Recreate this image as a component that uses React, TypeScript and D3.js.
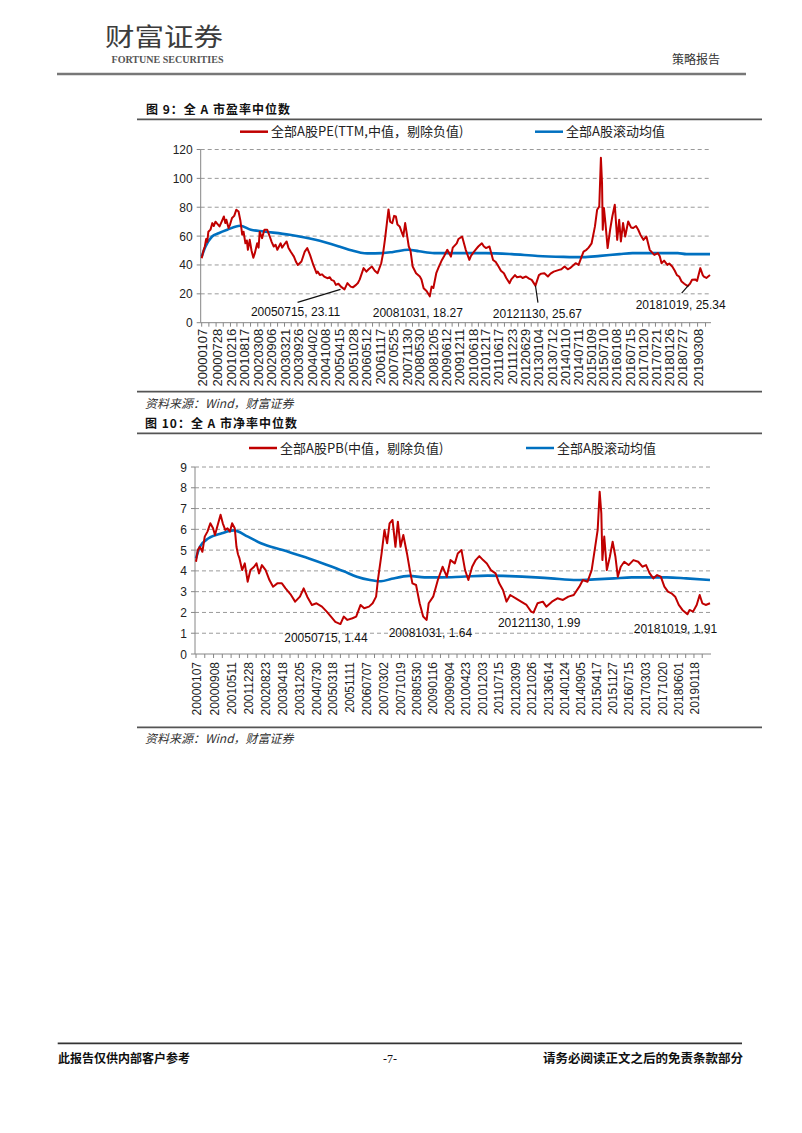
import React from 'react';
import * as d3 from 'd3';

// ---------- DATA ----------
const peLabels = ['20000107','20000728','20010216','20010817','20020308','20020906','20030321','20030926','20040402','20041008','20050415','20051028','20060512','20061117','20070525','20071130','20080530','20081205','20090612','20091211','20100618','20101217','20110617','20111223','20120629','20130104','20130712','20140110','20140711','20150109','20150710','20160108','20160715','20170120','20170721','20180126','20180727','20190308'];
const pbLabels = ['20000107','20000908','20010511','20011228','20020823','20030418','20031205','20040730','20050318','20051111','20060707','20070302','20071019','20080530','20090116','20090904','20100423','20101203','20110715','20120309','20121026','20130614','20140124','20140905','20150417','20151127','20160715','20170303','20171020','20180601','20190118'];

const peYTicks = [0, 20, 40, 60, 80, 100, 120];
const pbYTicks = [0, 1, 2, 3, 4, 5, 6, 7, 8, 9];

const peDates = ['20000107','20000201','20000220','20000310','20000325','20000410','20000510','20000605','20000625','20000720','20000815','20000915','20001015','20001115','20001205','20001220','20010120','20010210','20010310','20010410','20010510','20010610','20010705','20010801','20010820','20010915','20011005','20011020','20011115','20011210','20020105','20020125','20020228','20020320','20020405','20020508','20020610','20020720','20020825','20020920','20021020','20021115','20021210','20030125','20030215','20030315','20030420','20030515','20030615','20030801','20030901','20030925','20031115','20040101','20040205','20040315','20040501','20040615','20040701','20040801','20040901','20041001','20041115','20041220','20050110','20050215','20050315','20050420','20050525','20050715','20050825','20050920','20051010','20051110','20051225','20060120','20060215','20060410','20060520','20060620','20060805','20060915','20061025','20061215','20070110','20070205','20070305','20070328','20070420','20070520','20070615','20070710','20070801','20070901','20071022','20071118','20071210','20080108','20080201','20080303','20080420','20080612','20080705','20080805','20080915','20081031','20081125','20081220','20090130','20090301','20090420','20090520','20090705','20090825','20090920','20091115','20091210','20100130','20100322','20100512','20100601','20100701','20100815','20100915','20101105','20101201','20110101','20110220','20110412','20110520','20110628','20110801','20110912','20111015','20111201','20111225','20120215','20120315','20120505','20120601','20120720','20120901','20121008','20121130','20130118','20130220','20130405','20130525','20130701','20130815','20131030','20131201','20140115','20140301','20140401','20140620','20140801','20140905','20141010','20141120','20141220','20150201','20150320','20150420','20150520','20150612','20150628','20150708','20150725','20150815','20150915','20151020','20151120','20151225','20160128','20160225','20160320','20160420','20160520','20160701','20160810','20160910','20161020','20161120','20161220','20170201','20170315','20170501','20170705','20170825','20170920','20171015','20171120','20180105','20180201','20180315','20180420','20180520','20180620','20180725','20180901','20181019','20181120','20181220','20190201','20190301','20190415','20190520','20190605','20190710','20190830'];
const peValues = [44.7,50,52.8,58,56,63,64.5,69,67,70,68.5,66.7,70,73.6,69,71.3,65.6,68,72.5,74,78.3,77,71,61,63,55,57,50.5,57.4,50,45,48,55,52,63,58.6,64.4,64.4,59.7,56,52.8,54,50.5,55,52,54,56.3,52,49.3,45.8,42,40,42.4,49.3,51.7,47,40,34.3,35.5,33,33.5,32,30.8,31.5,29.7,29,26.2,27,25,23.11,27.4,26,25,24.5,26.2,27.5,30,37.8,35.4,37,38.9,36,34.3,41.2,48,57.4,69,78.5,70,69,74,73.6,68,66.7,59.7,69,62,52.8,50,38.9,34.3,32,30,23.9,22,18.27,25,24,34.3,38,43.5,46,50.5,45.8,52,55,58,59.7,50.5,43.5,46,48.2,51,52.8,55,53,51.7,52.8,43.5,42,38.9,36,34.3,31,27.4,30,33,31.5,32,31,32,30.5,29.7,25.67,33,34,34.3,32,34,35.4,36.6,37,38.9,37,37.8,41.2,40,44.7,49.3,50.5,52,55,66.7,78.3,80.6,114.2,96.8,64.4,79.4,69,51.7,64.4,73.6,81.7,57.4,71.3,56.3,69,59.7,70.1,66,65.6,67,64.4,61,57.4,59.7,50.5,47,48.2,46,41.2,43,40,41,38.9,36,33,32,28.5,27,25.34,27,29.7,30,29,37.8,33,32,31,33];

const peAvgDates = ['20000107','20000301','20000601','20000901','20010101','20010701','20011201','20020601','20030601','20040601','20050501','20051101','20060301','20060601','20070101','20070601','20080101','20080601','20090101','20100101','20110101','20120101','20130101','20140101','20141001','20150601','20160301','20160901','20180601','20181001','20190830'];
const peAvgValues = [45.8,52.8,59.7,62,64.4,67.2,64.4,63.2,60.9,57.4,52.8,50,48.5,48,48.2,49,50.5,49.5,48.2,48.2,48.2,47.5,46.2,45.6,45.4,46.3,47.5,48.2,48.2,47.5,47.5];

const pbDates = ['20000107','20000201','20000301','20000405','20000508','20000615','20000725','20000901','20000928','20001105','20001215','20010115','20010218','20010322','20010425','20010525','20010701','20010725','20010815','20010905','20011012','20011118','20011228','20020205','20020328','20020501','20020605','20020715','20020905','20021028','20021218','20030215','20030420','20030610','20030825','20031022','20031228','20040218','20040408','20040612','20040815','20041030','20050105','20050305','20050505','20050715','20050830','20051020','20051230','20060220','20060422','20060612','20060818','20061008','20061125','20061220','20070210','20070322','20070428','20070601','20070712','20070822','20070925','20071101','20071210','20080130','20080310','20080415','20080605','20080725','20080912','20081031','20081128','20090130','20090405','20090610','20090808','20090928','20091128','20100108','20100301','20100420','20100605','20100728','20100915','20101105','20101228','20110218','20110415','20110620','20110810','20111001','20111120','20120110','20120328','20120610','20120825','20121028','20121130','20130125','20130410','20130528','20130815','20131030','20140115','20140401','20140615','20140901','20141020','20141225','20150220','20150410','20150515','20150612','20150705','20150720','20150815','20150920','20151101','20151210','20160118','20160220','20160401','20160520','20160720','20160925','20161201','20170128','20170320','20170510','20170701','20170822','20171012','20171201','20180120','20180310','20180501','20180620','20180810','20181019','20181118','20190105','20190225','20190408','20190515','20190701','20190830'];
const pbValues = [4.44,5.0,5.16,4.92,5.65,5.89,6.29,6.05,5.73,6.21,6.7,6.29,5.97,6.05,5.89,6.29,6.05,5.16,4.8,4.6,4.04,4.36,3.48,4.04,4.2,4.36,3.88,4.28,4.04,3.56,3.24,3.4,3.4,3.16,2.84,2.52,2.76,3.16,2.76,2.36,2.44,2.28,2.04,1.8,1.55,1.44,1.8,1.64,1.72,1.8,2.36,2.2,2.28,2.44,2.76,3.56,4.84,5.97,5.33,6.29,6.45,5.16,6.37,5.16,5.73,4.84,4.04,3.4,3.32,2.44,1.8,1.64,2.44,2.76,3.56,4.2,3.72,4.52,4.36,4.84,5.0,4.04,3.56,4.2,4.52,4.71,4.52,4.36,4.04,3.88,3.4,3.08,2.52,2.84,2.68,2.52,2.36,2.04,1.99,2.44,2.52,2.28,2.52,2.68,2.6,2.76,2.84,3.24,3.56,3.48,4.04,5.16,5.97,7.81,6.77,4.52,5.65,4.04,4.68,5.4,4.68,3.72,4.2,4.44,4.28,4.52,4.44,4.2,4.28,3.88,3.64,3.8,3.72,3.24,3.0,2.92,2.76,2.36,2.12,1.91,2.12,2.04,2.36,2.84,2.44,2.36,2.44];

const pbAvgDates = ['20000107','20000301','20000701','20010101','20010615','20020101','20020701','20030501','20040501','20050101','20050901','20060301','20060901','20070201','20070701','20080301','20081001','20090601','20100301','20110301','20120101','20130101','20130801','20140801','20150401','20160101','20160901','20180101','20181001','20190830'];
const pbAvgValues = [4.6,5.16,5.57,5.81,5.95,5.65,5.33,5.0,4.6,4.3,3.98,3.72,3.56,3.5,3.62,3.76,3.69,3.69,3.72,3.77,3.75,3.69,3.64,3.56,3.59,3.64,3.69,3.69,3.64,3.56];

const peNoteDates = ['20050715', '20081031', '20121130', '20181019'];
const peNoteValues = [23.11, 18.27, 25.67, 25.34];
const pbNoteDates = ['20050715', '20081031', '20121130', '20181019'];
const pbNoteValues = [1.44, 1.64, 1.99, 1.91];

// ---------- LAYOUT ----------
const RED = '#C00000';
const BLUE = '#0070C0';
const NUM_FONT = '"Liberation Sans", Arial, sans-serif';
const CJK_FONT = '"Noto Sans CJK SC", sans-serif';

const parse = d3.timeParse('%Y%m%d');

type Note = { date: string; value: number; tx: number; ty: number; leader?: [number, number, number, number] };

type ChartCfg = {
  axisX: number; right: number; yTop: number; yBottom: number; yMax: number;
  yTicks: number[]; labels: string[]; labelSize: number; labelGap: number;
  endDate: string;
  red: { dates: string[]; values: number[] };
  blue: { dates: string[]; values: number[] };
  notes: Note[];
  fmt: (v: number) => string;
  legendY: number; redLegendX: number; blueLegendX: number;
  redName: string; blueName: string;
};

function Chart({ c }: { c: ChartCfg }) {
  const x = d3.scaleTime()
    .domain([parse(c.red.dates[0]) as Date, parse(c.endDate) as Date])
    .range([c.axisX + 1, c.right]);
  const y = d3.scaleLinear().domain([0, c.yMax]).range([c.yBottom, c.yTop]);
  const line = d3.line<[Date, number]>().x(d => x(d[0])).y(d => y(d[1]));
  const redPts: [Date, number][] = c.red.dates.map((d, i) => [parse(d) as Date, c.red.values[i]]);
  const bluePts: [Date, number][] = c.blue.dates.map((d, i) => [parse(d) as Date, c.blue.values[i]]);
  const blueLine = d3.line<[Date, number]>().x(d => x(d[0])).y(d => y(d[1])).curve(d3.curveMonotoneX);
  const labelX = c.labels.map(l => x(parse(l) as Date));
  const ticks: number[] = [];
  labelX.forEach((lx, i) => {
    ticks.push(lx);
    const nx = i < labelX.length - 1 ? labelX[i + 1] : lx + (lx - labelX[i - 1]);
    ticks.push((lx + nx) / 2);
  });
  const gridRight = c.right + 1;
  return (
    <g>
      {/* legend */}
      <line x1={c.redLegendX} x2={c.redLegendX + 28} y1={c.legendY} y2={c.legendY} stroke={RED} strokeWidth={2.5} />
      <text x={c.redLegendX + 31} y={c.legendY + 4.5} fontSize={13} fontFamily={CJK_FONT} fill="#222">{c.redName}</text>
      <line x1={c.blueLegendX} x2={c.blueLegendX + 28} y1={c.legendY} y2={c.legendY} stroke={BLUE} strokeWidth={2.5} />
      <text x={c.blueLegendX + 31} y={c.legendY + 4.5} fontSize={13} fontFamily={CJK_FONT} fill="#222">{c.blueName}</text>

      {/* gridlines */}
      {c.yTicks.filter(t => t > 0).map(t => (
        <line key={'g' + t} x1={c.axisX} x2={gridRight} y1={y(t)} y2={y(t)} stroke="#9a9a9a" strokeWidth={1} strokeDasharray="4,3" />
      ))}
      {c.yTicks.map(t => (
        <g key={'yt' + t}>
          <line x1={c.axisX - 4} x2={c.axisX} y1={y(t)} y2={y(t)} stroke="#868686" />
          <text x={c.axisX - 8} y={y(t) + 4.5} fontSize={12} textAnchor="end" fontFamily={NUM_FONT} fill="#222">{t}</text>
        </g>
      ))}
      {/* axes */}
      <line x1={c.axisX} x2={c.axisX} y1={y(c.yMax)} y2={c.yBottom} stroke="#868686" strokeWidth={1} />
      <line x1={c.axisX} x2={gridRight} y1={c.yBottom} y2={c.yBottom} stroke="#868686" strokeWidth={1} />
      {ticks.filter(t => t <= gridRight).map((t, i) => (
        <line key={'xt' + i} x1={t} x2={t} y1={c.yBottom} y2={c.yBottom + 4} stroke="#868686" />
      ))}
      {c.labels.map((l, i) => (
        <text key={l} transform={`translate(${labelX[i] + 1},${c.yBottom + c.labelGap}) rotate(-90)`}
          textAnchor="end" dy="0.35em" fontSize={c.labelSize} fontFamily={NUM_FONT} fill="#222">{l}</text>
      ))}

      {/* series */}
      <path d={blueLine(bluePts) || ''} fill="none" stroke={BLUE} strokeWidth={2.6} strokeLinejoin="round" />
      <path d={line(redPts) || ''} fill="none" stroke={RED} strokeWidth={2} strokeLinejoin="round" />

      {/* notes */}
      {c.notes.map((n, i) => {
        const ax = x(parse(n.date) as Date);
        const ay = y(n.value);
        return (
          <g key={'n' + i}>
            {n.leader && (
              <line x1={ax + n.leader[0]} y1={ay + n.leader[1]} x2={ax + n.leader[2]} y2={ay + n.leader[3]} stroke="#111" strokeWidth={1.2} />
            )}
            <text x={ax + n.tx} y={ay + n.ty} textAnchor="middle" fontSize={12} fontFamily={NUM_FONT} fill="#111">
              {`${n.date}, ${c.fmt(n.value)}`}
            </text>
          </g>
        );
      })}
    </g>
  );
}

const peCfg: ChartCfg = {
  axisX: 200.7, right: 710, yTop: 149.5, yBottom: 322.7, yMax: 120,
  yTicks: peYTicks, labels: peLabels, labelSize: 13, labelGap: 6,
  endDate: '20190830',
  red: { dates: peDates, values: peValues },
  blue: { dates: peAvgDates, values: peAvgValues },
  notes: [
    { date: peNoteDates[0], value: peNoteValues[0], tx: -49, ty: 27, leader: [-47, 13, -4, 0] },
    { date: peNoteDates[1], value: peNoteValues[1], tx: -12, ty: 21 },
    { date: peNoteDates[2], value: peNoteValues[2], tx: 2, ty: 32, leader: [2.5, 17, 0, 0] },
    { date: peNoteDates[3], value: peNoteValues[3], tx: -7, ty: 22.5, leader: [-6, 7, 1, -1] },
  ],
  fmt: v => v.toFixed(2),
  legendY: 131.7, redLegendX: 240, blueLegendX: 535,
  redName: '全部A股PE(TTM,中值，剔除负值)', blueName: '全部A股滚动均值',
};

const pbCfg: ChartCfg = {
  axisX: 195, right: 710, yTop: 467, yBottom: 654, yMax: 9,
  yTicks: pbYTicks, labels: pbLabels, labelSize: 12, labelGap: 8,
  endDate: '20190830',
  red: { dates: pbDates, values: pbValues },
  blue: { dates: pbAvgDates, values: pbAvgValues },
  notes: [
    { date: pbNoteDates[0], value: pbNoteValues[0], tx: -14.5, ty: 18.4 },
    { date: pbNoteDates[1], value: pbNoteValues[1], tx: 3.7, ty: 16.6 },
    { date: pbNoteDates[2], value: pbNoteValues[2], tx: 5.7, ty: 14.4 },
    { date: pbNoteDates[3], value: pbNoteValues[3], tx: -12, ty: 18.2 },
  ],
  fmt: v => v.toFixed(2),
  legendY: 448, redLegendX: 249, blueLegendX: 526,
  redName: '全部A股PB(中值，剔除负值)', blueName: '全部A股滚动均值',
};

export default function App() {
  return (
    <svg width={802} height={1133} style={{ position: 'absolute', left: 0, top: 0, background: '#fff' }}>
      <rect x={0} y={0} width={802} height={1133} fill="#fff" />
      {/* header */}
      <text x={105} y={46} fontSize={25} fontFamily={CJK_FONT} fill="#3c3c3c" textLength={118} lengthAdjust="spacingAndGlyphs">财富证券</text>
      <text x={111.5} y={63} fontSize={11} fontFamily='"Liberation Serif", serif' fontWeight={700} fill="#555" textLength={112} lengthAdjust="spacingAndGlyphs">FORTUNE SECURITIES</text>
      <text x={672} y={64} fontSize={12} fontFamily={CJK_FONT} fill="#333">策略报告</text>
      <line x1={57} x2={746} y1={74} y2={74} stroke="#777" strokeWidth={2.5} />

      {/* chart 1 title */}
      <text x={146} y={114} fontSize={12} fontWeight={700} fontFamily={CJK_FONT} letterSpacing={1} fill="#111">图 9：全 A 市盈率中位数</text>
      <line x1={137} x2={762} y1={119.3} y2={119.3} stroke="#555" strokeWidth={1.8} />
      <Chart c={peCfg} />
      <line x1={137} x2={762} y1={391.7} y2={391.7} stroke="#555" strokeWidth={1.8} />
      <text x={145} y={407.5} fontSize={12} fontStyle="italic" fontFamily={CJK_FONT} fill="#333">资料来源：Wind，财富证券</text>

      {/* chart 2 title */}
      <text x={145} y={428} fontSize={12} fontWeight={700} fontFamily={CJK_FONT} letterSpacing={1} fill="#111">图 10：全 A 市净率中位数</text>
      <line x1={137} x2={762} y1={433.3} y2={433.3} stroke="#555" strokeWidth={1.8} />
      <Chart c={pbCfg} />
      <line x1={137} x2={762} y1={727.3} y2={727.3} stroke="#555" strokeWidth={1.8} />
      <text x={145} y={743} fontSize={12} fontStyle="italic" fontFamily={CJK_FONT} fill="#333">资料来源：Wind，财富证券</text>

      {/* footer */}
      <line x1={57.7} x2={742} y1={1043.3} y2={1043.3} stroke="#333" strokeWidth={1.8} />
      <text x={58} y={1063} fontSize={12} fontWeight={700} fontFamily={CJK_FONT} fill="#111">此报告仅供内部客户参考</text>
      <text x={390} y={1063} fontSize={12} textAnchor="middle" fontFamily='"Liberation Serif", serif' fill="#111">-7-</text>
      <text x={743} y={1063} fontSize={12.5} fontWeight={700} textAnchor="end" fontFamily={CJK_FONT} fill="#111">请务必阅读正文之后的免责条款部分</text>
    </svg>
  );
}
